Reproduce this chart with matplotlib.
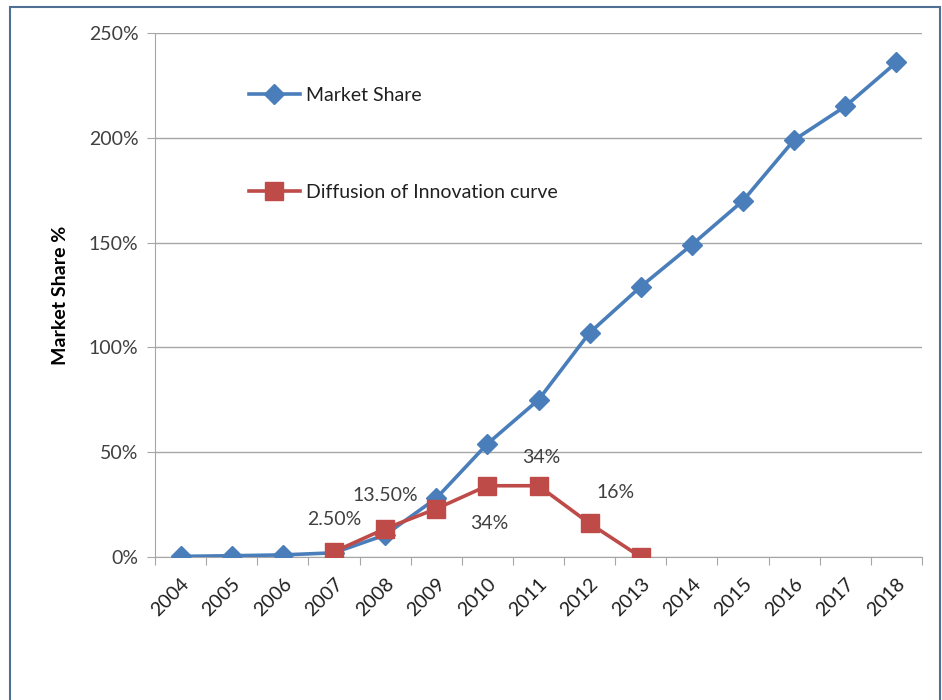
import matplotlib.pyplot as plt
from matplotlib.patches import Rectangle
from matplotlib.ticker import FuncFormatter

plt.rcParams['font.family'] = ['Lato', 'DejaVu Sans']

years = ['2004', '2005', '2006', '2007', '2008', '2009', '2010', '2011',
         '2012', '2013', '2014', '2015', '2016', '2017', '2018']
market_share = [0.3, 0.6, 1.0, 2.0, 10.5, 28, 54, 75, 107, 129, 149, 170, 199, 215, 236]
diffusion_years = ['2007', '2008', '2009', '2010', '2011', '2012', '2013']
diffusion = [2.5, 13.5, 23, 34, 34, 16, 0]
diffusion_labels = ['2.50%', '13.50%', '', '34%', '34%', '16%', '']
# offsets (points) for the diffusion value labels
label_offsets = [(0, 23), (0, 24), (0, 0), (1, -27), (2, 20), (19, 22), (0, 0)]

blue = '#4a7ebb'
red = '#be4b48'
grey = '#a6a6a6'
text_col = '#404040'

fig = plt.figure(figsize=(9.42, 7.0), dpi=100)
ax = fig.add_axes([155 / 942, 1 - 557 / 700, (922 - 155) / 942, (557 - 33) / 700])

x_ms = [years.index(y) for y in years]
x_di = [years.index(y) for y in diffusion_years]

ax.plot(x_ms, market_share, color=blue, lw=2.6, marker='D', ms=10,
        label='Market Share', zorder=3)
ax.plot(x_di, diffusion, color=red, lw=2.6, marker='s', ms=13,
        label='Diffusion of Innovation curve', zorder=4)

for xi, yi, lab, off in zip(x_di, diffusion, diffusion_labels, label_offsets):
    if lab:
        ax.annotate(lab, (xi, yi), xytext=off, textcoords='offset points',
                    ha='center', va='center', fontsize=14, color=text_col)

ax.set_xlim(-0.5, len(years) - 0.5)
ax.set_ylim(0, 250)
ax.set_yticks(range(0, 251, 50))
ax.yaxis.set_major_formatter(FuncFormatter(lambda v, p: f'{int(v)}%'))
ax.grid(axis='y', color=grey, lw=1)
ax.set_axisbelow(True)

ax.set_xticks([i - 0.5 for i in range(len(years) + 1)])
ax.set_xticklabels([])
ax.set_xticks(range(len(years)), minor=True)
ax.set_xticklabels(years, minor=True, rotation=45, ha='right',
                   rotation_mode='anchor', fontsize=14, color='#202020')
ax.tick_params(axis='x', which='minor', length=0, pad=13)
ax.tick_params(axis='x', which='major', length=6, color=grey)
ax.tick_params(axis='y', length=6, color=grey, labelsize=14, labelcolor=text_col, pad=6)

for s in ['top', 'right']:
    ax.spines[s].set_visible(False)
ax.spines['left'].set_color(grey)
ax.spines['bottom'].set_color(grey)

ax.set_ylabel('Market Share %', fontsize=14, fontweight='bold', labelpad=14)

ax.legend(loc='upper left', bbox_to_anchor=(0.1, 0.93), frameon=False,
          fontsize=14, labelspacing=4.1, handlelength=2.6, handletextpad=0.3,
          labelcolor='#202020')

fig.patches.append(Rectangle((10 / 942, -0.05), 930 / 942, 1.04,
                             transform=fig.transFigure, fill=False,
                             edgecolor='#4f6f94', lw=1.5))

fig.savefig('out.png', dpi=100)
